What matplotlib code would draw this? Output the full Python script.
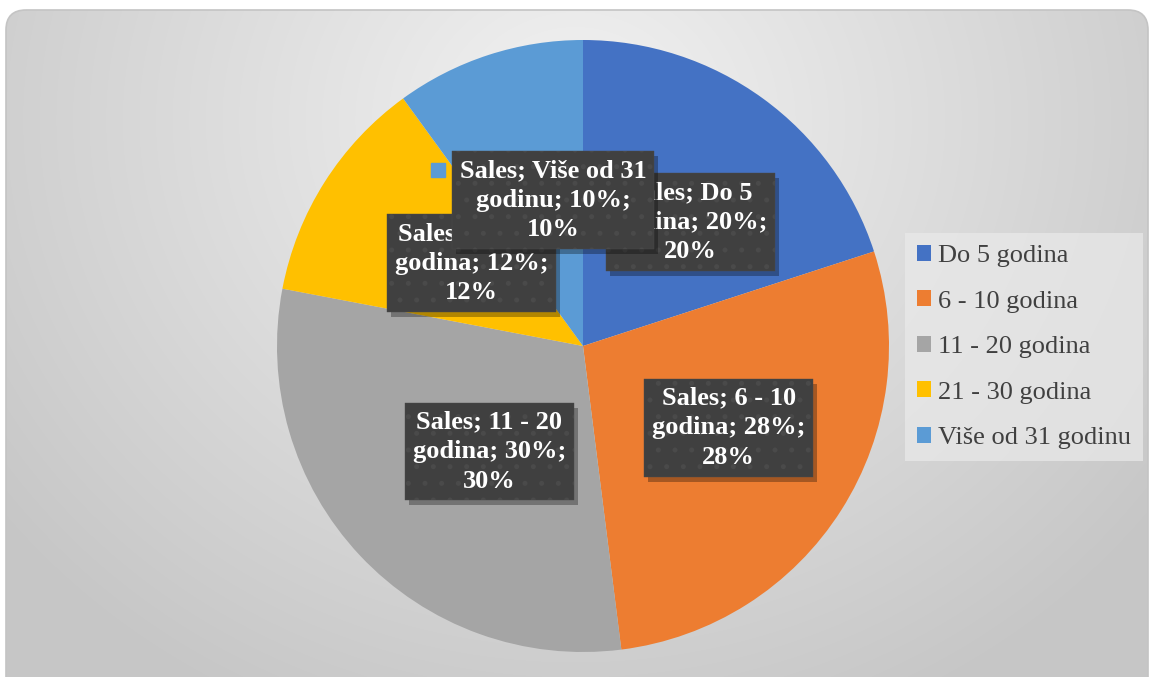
import numpy as np
import matplotlib
matplotlib.use("Agg")
import matplotlib.pyplot as plt
from matplotlib.patches import FancyBboxPatch
from matplotlib import transforms

categories = ["Do 5 godina", "6 - 10 godina", "11 - 20 godina", "21 - 30 godina", "Više od 31 godinu"]
values = [20, 28, 30, 12, 10]
colors = ["#4472C4", "#ED7D31", "#A5A5A5", "#FFC000", "#5B9BD5"]

# label centres in pie units (radius = 1)
label_pos = [(0.352, 0.404), (0.476, -0.267), (-0.306, -0.345), (-0.365, 0.270), (-0.098, 0.476)]

W, H = 1151, 677
fig = plt.figure(figsize=(W / 100, H / 100), dpi=100)
fig.patch.set_facecolor("white")
plt.rcParams["hatch.linewidth"] = 1.2

# background panel with radial gradient
bg = fig.add_axes([0, 0, 1, 1])
bg.set_xlim(0, W)
bg.set_ylim(H, 0)
bg.axis("off")
yy, xx = np.mgrid[0:H, 0:W]
d = np.sqrt((xx - 575) ** 2 + ((yy - 120) / 0.9) ** 2)
t = np.clip(d / 720, 0, 1)
g = 0.95 - (0.95 - 0.78) * t
img = bg.imshow(np.dstack([g, g, g]), extent=(0, W, H, 0), zorder=0)
panel = FancyBboxPatch((6, 10), 1142, 690, boxstyle="round,pad=0,rounding_size=20",
                       fc="none", ec="#c4c4c4", lw=1.2, transform=bg.transData, zorder=1)
bg.add_patch(panel)
img.set_clip_path(panel)

R = 320 / 306
ax = fig.add_axes([(583 - 320) / W, (331 - 320) / H, 640 / W, 640 / H])
ax.axis("off")
ax.patch.set_alpha(0)

wedges, _ = ax.pie(values, colors=colors, startangle=90, counterclock=False,
                   radius=1, center=(0, 0), wedgeprops=dict(linewidth=0))
ax.set_xlim(-R, R)
ax.set_ylim(-R, R)

font = dict(family="Liberation Serif", weight="bold", size=19)
shadow_tr = transforms.offset_copy(ax.transData, fig=fig, x=4, y=-5, units="dots")
total = sum(values)
for i, (name, v) in enumerate(zip(categories, values)):
    pct = round(100 * v / total)
    if name.startswith("Više"):
        txt = f"Sales; Više od 31\ngodinu; {pct}%;\n{pct}%"
    else:
        first, rest = name.rsplit(" ", 1)
        txt = f"Sales; {first}\n{rest}; {pct}%;\n{pct}%"
    x, y = label_pos[i]
    ax.text(x, y, txt, transform=shadow_tr, ha="center", va="center", color="none",
            linespacing=1.36, zorder=5 + 2 * i, fontdict=font,
            bbox=dict(boxstyle="square,pad=0.3", fc="black", ec="none", alpha=0.3))
    ax.text(x, y, txt, ha="center", va="center", color="white", linespacing=1.36,
            zorder=6 + 2 * i, fontdict=font,
            bbox=dict(boxstyle="square,pad=0.3", fc="#404040", ec="#4a4a4a", lw=0.3, hatch="."))

# legend key shown beside the last label
ax.plot([(438 - 583) / 306], [(346 - 170) / 306], marker="s", ms=10, color=colors[4],
        zorder=20, linestyle="none")

leg = fig.legend(wedges, categories, loc="upper left",
                 bbox_to_anchor=(905 / W, 1 - 233 / H), borderaxespad=0,
                 prop=dict(family="Liberation Serif", size=19),
                 handlelength=0.55, handleheight=0.55, handletextpad=0.25,
                 labelspacing=0.88, borderpad=0.45, fancybox=False,
                 frameon=True, facecolor="#eaeaea", edgecolor="none", framealpha=0.7)
for t_ in leg.get_texts():
    t_.set_color("#404040")

fig.savefig("out.png", dpi=100)
